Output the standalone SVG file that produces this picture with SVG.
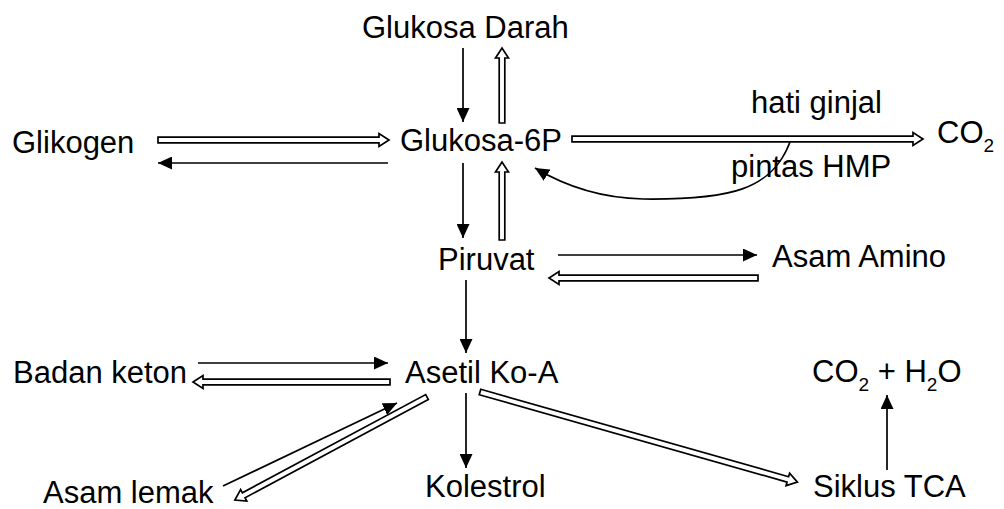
<svg xmlns="http://www.w3.org/2000/svg" width="1004" height="509" viewBox="0 0 1004 509">
  <defs>
    <style>
      .lbl { font-family: "Liberation Sans", Arial, sans-serif; font-size: 31px; fill: #000; }
      .sub { font-size: 19px; }
      .solid { fill: none; stroke: #000; stroke-width: 1.7; marker-end: url(#head); }
      .hollow { fill: #fff; stroke: #000; stroke-width: 1.7; stroke-linejoin: miter; }
    </style>
    <marker id="head" markerUnits="userSpaceOnUse" markerWidth="14" markerHeight="13" refX="14" refY="6.5" orient="auto">
      <path d="M0,0 L14,6.5 L0,13 Z" fill="#000"/>
    </marker>
  </defs>
  <rect width="1004" height="509" fill="#fff"/>

  <!-- connectors -->
  <g id="connectors">
    <!-- thin arrows with filled heads -->
    <line class="solid" x1="463" y1="48" x2="463" y2="122"/>
    <line class="solid" x1="388" y1="163" x2="158" y2="163"/>
    <line class="solid" x1="463" y1="163" x2="463" y2="238"/>
    <path class="solid" d="M790,142 C772,190 730,200 643,199 C600,198 565,186 535,168"/>
    <line class="solid" x1="558" y1="255" x2="757" y2="255"/>
    <line class="solid" x1="466" y1="280" x2="466" y2="353"/>
    <line class="solid" x1="198" y1="363" x2="388" y2="363"/>
    <line class="solid" x1="223" y1="486" x2="397" y2="403"/>
    <line class="solid" x1="466" y1="393" x2="466" y2="468"/>
    <line class="solid" x1="887" y1="470" x2="887" y2="395"/>

    <!-- outlined (double-line) arrows -->
    <path class="hollow" transform="translate(502,123) rotate(-90)" d="M0,-2.8 H65 V-6.5 L75,0 L65,6.5 V2.8 H0 Z"/>
    <path class="hollow" transform="translate(502,240) rotate(-90)" d="M0,-2.8 H68 V-6.5 L78,0 L68,6.5 V2.8 H0 Z"/>
    <path class="hollow" transform="translate(158,140)" d="M0,-2.8 H221 V-6.5 L231,0 L221,6.5 V2.8 H0 Z"/>
    <path class="hollow" transform="translate(572,139)" d="M0,-2.8 H341 V-6.5 L351,0 L341,6.5 V2.8 H0 Z"/>
    <path class="hollow" transform="translate(758,278) rotate(180)" d="M0,-2.8 H199 V-6.5 L209,0 L199,6.5 V2.8 H0 Z"/>
    <path class="hollow" transform="translate(390,382) rotate(180)" d="M0,-2.8 H187 V-6.5 L197,0 L187,6.5 V2.8 H0 Z"/>
    <path class="hollow" transform="translate(427,397) rotate(151.8)" d="M0,-2.8 H208 V-6.5 L218,0 L208,6.5 V2.8 H0 Z"/>
    <path class="hollow" transform="translate(480,392) rotate(15.85)" d="M0,-2.8 H320 V-6.5 L330,0 L320,6.5 V2.8 H0 Z"/>
  </g>

  <!-- nodes -->
  <g id="glukosa-darah"><text class="lbl" x="362" y="38">Glukosa Darah</text></g>
  <g id="glikogen"><text class="lbl" x="12" y="153">Glikogen</text></g>
  <g id="glukosa-6p"><text class="lbl" x="400" y="151">Glukosa-6P</text></g>
  <g id="co2-hmp"><text class="lbl" x="937" y="143">CO<tspan class="sub" dy="9">2</tspan></text></g>
  <g id="label-hati-ginjal"><text class="lbl" x="751" y="113">hati ginjal</text></g>
  <g id="label-pintas-hmp"><text class="lbl" x="731" y="177">pintas HMP</text></g>
  <g id="piruvat"><text class="lbl" x="438" y="270">Piruvat</text></g>
  <g id="asam-amino"><text class="lbl" x="772" y="267">Asam Amino</text></g>
  <g id="badan-keton"><text class="lbl" x="13" y="383">Badan keton</text></g>
  <g id="asetil-koa"><text class="lbl" x="405" y="383">Asetil Ko-A</text></g>
  <g id="co2-h2o"><text class="lbl" x="812" y="382">CO<tspan class="sub" dy="9">2</tspan><tspan dy="-9"> + H</tspan><tspan class="sub" dy="9">2</tspan><tspan dy="-9">O</tspan></text></g>
  <g id="asam-lemak"><text class="lbl" x="43" y="503">Asam lemak</text></g>
  <g id="kolestrol"><text class="lbl" x="425" y="497">Kolestrol</text></g>
  <g id="siklus-tca"><text class="lbl" x="813" y="497">Siklus TCA</text></g>
</svg>
